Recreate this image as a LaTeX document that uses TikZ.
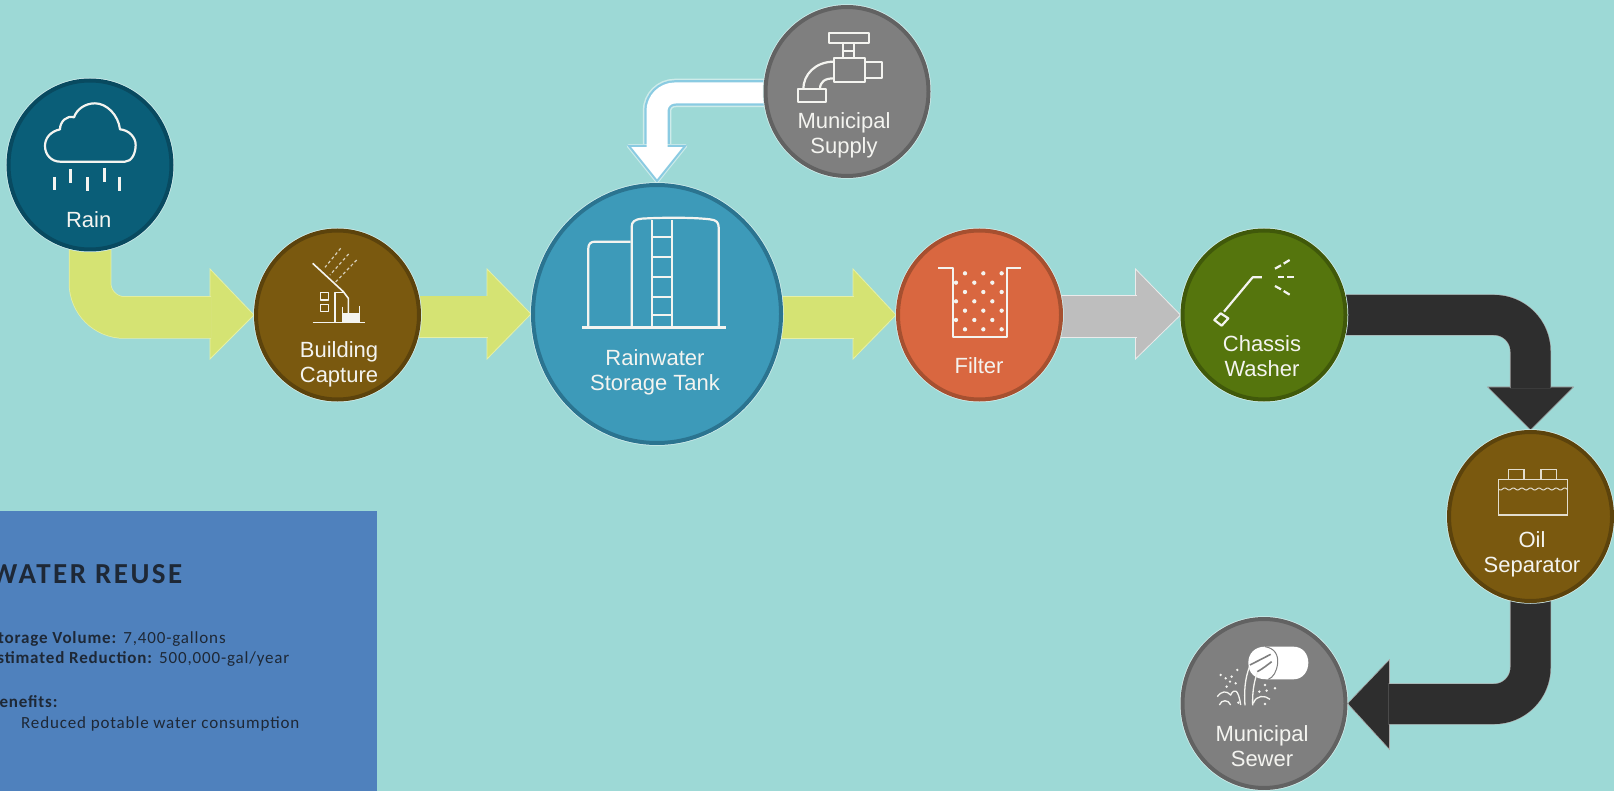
\documentclass[tikz,border=0pt]{standalone}
\usepackage{fontspec}
\setmainfont{Liberation Sans}
\newfontfamily\boxfont[LetterSpace=5]{Carlito}
\newfontfamily\titlefont[LetterSpace=8.5]{Carlito}
\usetikzlibrary{calc,shapes.geometric}
\pgfdeclarelayer{back}
\pgfsetlayers{back,main}
\definecolor{bgc}{HTML}{9DD9D6}
\definecolor{boxc}{HTML}{4F81BD}
\definecolor{boxt}{HTML}{1E2836}
\definecolor{yel}{HTML}{D5E373}
\definecolor{yelh}{HTML}{E6F0A6}
\definecolor{gry}{HTML}{BEBEBE}
\definecolor{dark}{HTML}{2E2E2E}
\definecolor{icn}{HTML}{F4F4F0}
\definecolor{rainf}{HTML}{0A5E78}\definecolor{raind}{HTML}{084A60}
\definecolor{brnf}{HTML}{7A590F}\definecolor{brnd}{HTML}{5C430C}
\definecolor{tankf}{HTML}{3D9AB9}\definecolor{tankd}{HTML}{2B7490}
\definecolor{grf}{HTML}{7F7F7F}\definecolor{grd}{HTML}{626262}
\definecolor{filf}{HTML}{D96740}\definecolor{fild}{HTML}{A65030}
\definecolor{grnf}{HTML}{55750D}\definecolor{grnd}{HTML}{40590A}
\definecolor{pipeb}{HTML}{8ACBE2}
\tikzset{
  disc/.style 2 args={ellipse,inner sep=0pt,draw=#2,fill=#1,line width=4pt,preaction={draw=white!55!bgc,line width=5.5pt}},
  small/.style 2 args={disc={#1}{#2},minimum width=163pt,minimum height=169pt},
  lab/.style={align=center,text=icn,font=\fontsize{22}{25}\selectfont,inner sep=0pt},
  ic/.style={draw=icn,line width=2.2pt,line join=round},
  shaftY/.style={draw=yel,line width=41pt,preaction={draw=yelh,line width=42.5pt}},
  headY/.style={fill=yel,draw=yelh,line width=.8pt},
  shaftG/.style={draw=gry,line width=41pt,preaction={draw=white!70!gry,line width=42.5pt}},
  headG/.style={fill=gry,draw=white!70!gry,line width=.8pt},
  shaftD/.style={draw=dark,line width=40pt,preaction={draw=white!60!dark,line width=41.2pt}},
  headD/.style={fill=dark,draw=white!60!dark,line width=.6pt},
  boxtext/.style={anchor=base west,text=boxt,inner sep=0pt,font=\boxfont\fontsize{17}{20}\selectfont},
}
\begin{document}
\begin{tikzpicture}[x=1pt,y=-1pt]
\useasboundingbox (0,0) rectangle (1614,791);
% ---- discs
\node[small={rainf}{raind}] (rain) at (90,165) {};
\node[small={brnf}{brnd}] (building) at (337.5,315) {};
\node[disc={tankf}{tankd},minimum width=248pt,minimum height=258pt] (tank) at (657,314) {};
\node[small={grf}{grd}] (supply) at (847,91.5) {};
\node[small={filf}{fild}] (filter) at (979.5,315) {};
\node[small={grnf}{grnd}] (washer) at (1264,315) {};
\node[small={brnf}{brnd}] (oil) at (1530.5,516.5) {};
\node[small={grf}{grd}] (sewer) at (1264,703.5) {};
% ---- labels
\node[lab] (lrain) at (88.7,220) {Rain};
\node[lab] (lbuilding) at (339,364.5) {Building\\Capture};
\node[lab] (ltank) at (655,372.5) {Rainwater\\Storage Tank};
\node[lab] (lsupply) at (844,135.5) {Municipal\\Supply};
\node[lab] (lfilter) at (979,366) {Filter};
\node[lab] (lwasher) at (1262,356.5) {Chassis\\Washer};
\node[lab] (loil) at (1532,554) {Oil\\Separator};
\node[lab] (lsewer) at (1262,746.5) {Municipal\\Sewer};
% ---- back layer
\begin{pgfonlayer}{back}
\fill[bgc] (0,0) rectangle (1614,791);
\fill[boxc] (0,511) rectangle (377,791);
% rain -> building
\path[headY] ($(building.west)+(-44,-46)$) -- (building.west) -- ($(building.west)+(-44,44)$) -- cycle;
\draw[shaftY,rounded corners=34.5pt] ($(rain.south)+(0,-12)$) |- ($(building.west)+(-43,2.5)$);
% building -> tank
\path[headY] ($(tank.west)+(-44,-45)$) -- (tank.west) -- ($(tank.west)+(-44,45)$) -- cycle;
\draw[shaftY] ($(building.east)+(-12,2)$) -- ($(tank.west)+(-43,3)$);
% tank -> filter
\path[headY] ($(filter.west)+(-43,-46)$) -- (filter.west) -- ($(filter.west)+(-43,44)$) -- cycle;
\draw[shaftY] ($(tank.east)+(-12,3.5)$) -- ($(filter.west)+(-42,2.5)$);
% filter -> washer
\path[headG] ($(washer.west)+(-45,-46)$) -- (washer.west) -- ($(washer.west)+(-45,44)$) -- cycle;
\draw[shaftG] ($(filter.east)+(-12,1.5)$) -- ($(washer.west)+(-44,1.5)$);
% washer -> oil
\path[headD] ($(oil.north)+(-43,-43)$) -- (oil.north) -- ($(oil.north)+(43,-43)$) -- cycle;
\draw[shaftD,rounded corners=36.5pt] ($(washer.east)+(-12,0)$) -| ($(oil.north)+(0,-42)$);
% oil -> sewer
\path[headD] ($(sewer.east)+(42,-44)$) -- (sewer.east) -- ($(sewer.east)+(42,46)$) -- cycle;
\draw[shaftD,rounded corners=36.5pt] ($(oil.south)+(0,-12)$) |- ($(sewer.east)+(41,0.5)$);
% supply -> tank
\draw[draw=white!50!bgc,line width=28.5pt,rounded corners=18pt] ($(supply.west)+(12,1.5)$) -| ($(tank.north)+(0,-38)$);
\draw[draw=pipeb,line width=25.5pt,rounded corners=18pt] ($(supply.west)+(12,1.5)$) -| ($(tank.north)+(0,-38)$);
\path[fill=white,draw=white!50!bgc,line width=3.5pt,line join=round] ($(tank.north)+(-28.5,-37)$) -- ($(tank.north)+(0,-1.5)$) -- ($(tank.north)+(28.5,-37)$) -- cycle;
\path[fill=white,draw=pipeb,line width=2pt] ($(tank.north)+(-28,-37)$) -- ($(tank.north)+(0,-2)$) -- ($(tank.north)+(28,-37)$) -- cycle;
\draw[draw=white,line width=21pt,rounded corners=18pt] ($(supply.west)+(12,1.5)$) -| ($(tank.north)+(0,-33)$);
\end{pgfonlayer}
% ---- box text
\node[boxtext,font=\titlefont\bfseries\fontsize{29}{34}\selectfont] (boxtitle) at (-9,583) {WATER REUSE};
\node[boxtext] (b1) at (-11,643) {\textbf{Storage Volume:} 7,400-gallons};
\node[boxtext] (b2) at (-12,663) {\textbf{Estimated Reduction:} 500,000-gal/year};
\node[boxtext] (b3) at (-11,707) {\textbf{Benefits:}};
\node[boxtext] (b4) at (21,728) {Reduced potable water consumption};
% ---- rain icon (zoom 1 coordinates)
\begin{scope}[x=0.33333pt,y=-0.33333pt,shift={(0,180)}]
\draw[ic] (180,305) -- (375,305) .. controls (395,305) and (407,280) .. (407,255) .. controls (407,230) and (385,210) .. (360,208) .. controls (355,165) and (320,130) .. (285,130) .. controls (255,130) and (230,148) .. (222,172) .. controls (200,165) and (180,185) .. (180,208) .. controls (150,215) and (135,235) .. (135,258) .. controls (135,285) and (155,305) .. (180,305) -- cycle;
\foreach \a/\b/\c in {163/350/390,211/328/368,262/352/393,313/323/365,358/350/392}
  \draw[ic,line width=2.4pt] (\a,\b) -- (\a,\c);
% building icon
\draw[ic,line width=1.6pt] (938,610) -- (1030,695) -- (1045,715) -- (1045,760);
\draw[ic,line width=1.6pt] (938,787) -- (1095,787);
\draw[ic,line width=1.6pt] (1005,787) -- (1005,697) -- (1030,697);
\draw[ic,line width=1.6pt] (962,698) rectangle (986,720);
\draw[ic,line width=1.6pt] (962,733) rectangle (986,755);
\fill[icn] (1028,760) rectangle (1078,787);
\draw[ic,line width=1.4pt] (1028,740) -- (1028,787);
\draw[ic,line width=1.4pt] (1078,738) -- (1078,787);
\foreach \a/\b/\c/\d in {1022/565/975/622,1046/582/990/645,1070/600/1005/668}
  \draw[draw=icn!75!brnf,line width=1.2pt,dash pattern=on 3pt off 2.5pt] (\a,\b) -- (\c,\d);
\end{scope}
% ---- tank and tap icons (zoom 2)
\begin{scope}[x=0.33333pt,y=-0.33333pt,shift={(1560,0)}]
\draw[ic,line width=2.6pt] (187,982) -- (618,982);
\draw[ic] (205,982) -- (205,745) .. controls (205,732) and (212,725) .. (225,725) -- (332,725);
\draw[ic] (335,982) -- (335,680) .. controls (335,665) and (345,658) .. (365,656) .. controls (430,652) and (520,652) .. (570,658) .. controls (590,660) and (596,668) .. (596,682) -- (596,982);
\draw[ic] (395,660) -- (395,982);
\draw[ic] (455,660) -- (455,982);
\foreach \r in {710,770,830,890,945} \draw[ic] (395,\r) -- (455,\r);
% tap
\draw[ic] (927,98) rectangle (1047,128);
\draw[ic] (970,128) -- (970,175);
\draw[ic] (1002,128) -- (1002,175);
\draw[ic] (970,152) -- (1002,152);
\draw[ic] (942,175) rectangle (1035,247);
\draw[ic] (1035,185) rectangle (1085,235);
\draw[ic] (942,185) .. controls (885,185) and (850,225) .. (850,267);
\draw[ic] (942,235) .. controls (915,235) and (900,245) .. (900,267);
\draw[ic] (833,267) rectangle (917,307);
\end{scope}
% ---- filter and washer icons (zoom 3)
\begin{scope}[x=0.33333pt,y=-0.33333pt,shift={(2640,630)}]
\draw[ic] (175,173) -- (220,173) -- (220,382) -- (380,382) -- (380,173) -- (422,173);
\foreach \y in {190,246,302,358} \foreach \x in {255,310,365} \fill[icn] (\x,\y) circle[radius=6.5];
\foreach \y in {218,274,330} \foreach \x in {228,283,337} \fill[icn] (\x,\y) circle[radius=6.5];
\draw[ic] (1146,202) -- (1118,202) -- (1032,305);
\draw[ic] (1003,330) -- (1022,310) -- (1045,325) -- (1025,347) -- cycle;
\foreach \a/\b/\c/\d in {1185/176/1203/166,1211/161/1229/150,1193/201/1212/201,1222/201/1241/201,1185/228/1203/238,1211/243/1229/254}
  \draw[ic] (\a,\b) -- (\c,\d);
\end{scope}
% ---- oil and sewer icons (zoom 4)
\begin{scope}[x=0.33333pt,y=-0.33333pt,shift={(3510,1260)}]
\draw[draw=icn!85!brnf,line width=1.1pt] (985,178) rectangle (1192,285);
\draw[draw=icn!85!brnf,line width=1.1pt] (1015,178) -- (1015,148) -- (1062,148) -- (1062,178);
\draw[draw=icn!85!brnf,line width=1.1pt] (1113,178) -- (1113,148) -- (1160,148) -- (1160,178);
\draw[draw=icn!85!brnf,line width=1pt] plot[domain=985:1192,samples=90,smooth] (\x,{207+3*sin((\x-985)*14)});
% sewer
\fill[white] (285,680) -- (370,680) .. controls (398,680) and (415,702) .. (415,728) .. controls (415,755) and (398,778) .. (370,778) -- (290,778) .. controls (255,778) and (235,760) .. (235,728) .. controls (235,700) and (255,680) .. (285,680) -- cycle;
\draw[draw=grf,line width=1pt] (285,680) .. controls (315,685) and (325,705) .. (323,730) .. controls (320,755) and (310,772) .. (295,778);
\draw[draw=grf,line width=1.6pt] (240,735) .. controls (265,722) and (285,712) .. (302,703);
\draw[draw=grf,line width=1.6pt] (262,755) .. controls (280,745) and (292,735) .. (305,725);
\draw[draw=icn,line width=1.3pt] (238,742) .. controls (225,775) and (222,815) .. (225,856);
\draw[draw=icn,line width=1.3pt] (262,758) .. controls (250,790) and (247,825) .. (248,856);
\draw[draw=icn,line width=1.3pt] (142,830) .. controls (155,812) and (170,812) .. (182,825) .. controls (192,805) and (205,805) .. (212,855);
\draw[draw=icn,line width=1.3pt] (148,855) .. controls (155,838) and (175,838) .. (182,855);
\draw[draw=icn,line width=1.3pt] (250,850) .. controls (258,825) and (285,825) .. (300,838);
\foreach \x/\y in {152/765,167/775,185/770,202/750,180/785,197/790,170/800,285/795,290/812,268/815,315/805,205/848,285/852}
  \fill[icn] (\x,\y) circle[radius=4];
\end{scope}
\end{tikzpicture}
\end{document}
